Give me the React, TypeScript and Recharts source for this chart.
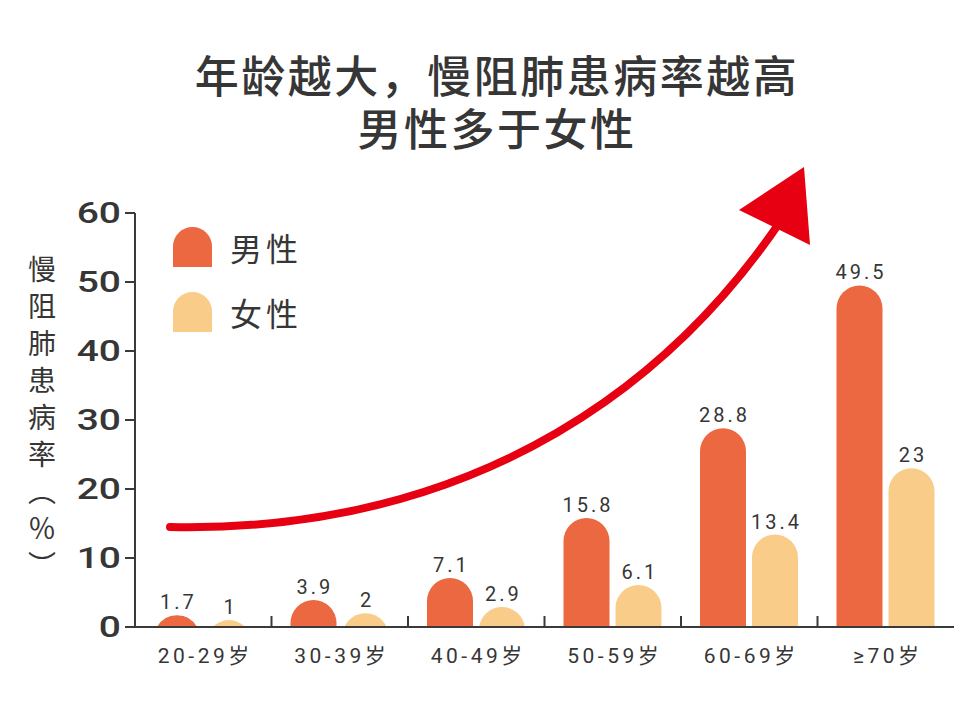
import React from 'react';
import { BarChart, Bar, XAxis, YAxis, LabelList, Legend } from 'recharts';

const categories = ['20-29岁', '30-39岁', '40-49岁', '50-59岁', '60-69岁', '≥70岁'];
const maleValues = [1.7, 3.9, 7.1, 15.8, 28.8, 49.5];
const femaleValues = [1, 2, 2.9, 6.1, 13.4, 23];
const yTicks = [0, 10, 20, 30, 40, 50, 60];
const seriesNames = { male: '男性', female: '女性' };
const seriesOrder = [seriesNames.male, seriesNames.female];
const titleLines = ['年龄越大，慢阻肺患病率越高', '男性多于女性'];
const yAxisLabel = '慢阻肺患病率（％）';

const data = categories.map((c, i) => ({ cat: c, male: maleValues[i], female: femaleValues[i] }));

const CHART_W = 960;
const CHART_H = 725;
const Y_AXIS_W = 135;
const MARGIN_R = 6;
const MARGIN_TOP = 213;
const X_AXIS_H = 98;
const PLOT_W = CHART_W - Y_AXIS_W - MARGIN_R;
const BAND = PLOT_W / categories.length;

const MALE = '#EC6840';
const FEMALE = '#F9CC8A';
const TEXT = '#363636';
const AXIS = '#3a3a3a';
const NUM_FONT = "Roboto, 'Noto Sans CJK SC', sans-serif";
const CJK_FONT = "'Noto Sans CJK SC', sans-serif";

const RoundTop = (props: any) => {
  const { x, y, width, height, fill } = props;
  if (!width || height == null || height <= 0) return null;
  const r = width / 2;
  const base = y + height;
  let d: string;
  if (height >= r) {
    d = `M${x},${base} L${x},${y + r} A${r},${r} 0 0 1 ${x + width},${y + r} L${x + width},${base} Z`;
  } else {
    const cx = x + r;
    const hc = Math.sqrt(r * r - (r - height) * (r - height));
    d = `M${cx - hc},${base} A${r},${r} 0 0 1 ${cx + hc},${base} Z`;
  }
  return <path d={d} fill={fill} />;
};

const XTick = (props: any) => {
  const { x, y, payload, index } = props;
  const isLast = index === categories.length - 1;
  return (
    <g>
      {!isLast && (
        <line x1={x + BAND / 2} y1={y} x2={x + BAND / 2} y2={y - 11} stroke={AXIS} strokeWidth={2} />
      )}
      <text
        x={x + 2}
        y={y + 36}
        textAnchor="middle"
        fontSize={21}
        letterSpacing={3.5}
        fill={TEXT}
        fontFamily={NUM_FONT}
      >
        {payload.value}
      </text>
    </g>
  );
};

const YTick = (props: any) => {
  const { x, y, payload } = props;
  return (
    <text
      x={0}
      y={0}
      transform={`translate(${x},${y}) scale(1.3,1)`}
      textAnchor="end"
      dominantBaseline="central"
      fontSize={30}
      fontWeight={500}
      fill={TEXT}
      fontFamily={NUM_FONT}
    >
      {payload.value}
    </text>
  );
};

const ValueLabel = (props: any) => {
  const { x, y, width, value } = props;
  return (
    <text
      x={x + width / 2 + 1.5}
      y={y - 6}
      textAnchor="middle"
      fontSize={20}
      letterSpacing={3}
      fill={TEXT}
      fontFamily={NUM_FONT}
    >
      {value}
    </text>
  );
};

const LegendContent = (props: any) => {
  const items = [...(props.payload || [])].sort(
    (a: any, b: any) => seriesOrder.indexOf(a.value) - seriesOrder.indexOf(b.value)
  );
  return (
    <div style={{ display: 'flex', flexDirection: 'column', gap: 25 }}>
      {items.map((p: any) => (
        <div key={p.value} style={{ display: 'flex', alignItems: 'center', height: 40 }}>
          <div
            style={{
              width: 39,
              height: 40,
              background: p.color,
              borderRadius: '19.5px 19.5px 0 0',
            }}
          />
          <span
            style={{
              marginLeft: 18,
              fontSize: 32,
              letterSpacing: 4,
              color: TEXT,
              fontFamily: CJK_FONT,
              lineHeight: '40px',
            }}
          >
            {p.value}
          </span>
        </div>
      ))}
    </div>
  );
};

export default function App() {
  return (
    <div style={{ position: 'absolute', left: 0, top: 0, width: CHART_W, height: CHART_H, background: '#fff' }}>
      <BarChart
        width={CHART_W}
        height={CHART_H}
        data={data}
        margin={{ top: MARGIN_TOP, right: MARGIN_R, bottom: 0, left: 0 }}
        barSize={46}
        barGap={6}
      >
        <XAxis
          dataKey="cat"
          height={X_AXIS_H}
          tickLine={false}
          tickSize={0}
          tickMargin={0}
          axisLine={{ stroke: AXIS, strokeWidth: 2 }}
          tick={<XTick />}
          interval={0}
        />
        <YAxis
          width={Y_AXIS_W}
          domain={[0, 60]}
          ticks={yTicks}
          tickSize={10}
          tickMargin={4}
          axisLine={{ stroke: AXIS, strokeWidth: 2 }}
          tickLine={{ stroke: AXIS, strokeWidth: 2 }}
          tick={<YTick />}
          interval={0}
        />
        <Legend
          layout="vertical"
          align="center"
          verticalAlign="middle"
          content={<LegendContent />}
          wrapperStyle={{ position: 'absolute', left: 173, top: 227, width: 'auto', height: 'auto' }}
        />
        <Bar dataKey="male" name={seriesNames.male} fill={MALE} shape={<RoundTop />} isAnimationActive={false}>
          <LabelList dataKey="male" content={<ValueLabel />} />
        </Bar>
        <Bar dataKey="female" name={seriesNames.female} fill={FEMALE} shape={<RoundTop />} isAnimationActive={false}>
          <LabelList dataKey="female" content={<ValueLabel />} />
        </Bar>
      </BarChart>

      <div
        style={{
          position: 'absolute',
          left: 497,
          top: 48,
          transform: 'translateX(-50%)',
          textAlign: 'center',
          whiteSpace: 'pre',
          fontFamily: CJK_FONT,
          fontWeight: 500,
          fontSize: 44,
          lineHeight: '53px',
          letterSpacing: 2.5,
          color: TEXT,
        }}
      >
        {titleLines.join('\n')}
      </div>

      <div
        style={{
          position: 'absolute',
          left: 28,
          top: 255,
          writingMode: 'vertical-rl',
          fontFamily: CJK_FONT,
          fontSize: 28,
          letterSpacing: 9,
          color: TEXT,
          lineHeight: '28px',
          whiteSpace: 'nowrap',
        }}
      >
        {yAxisLabel}
      </div>

      <svg
        width={CHART_W}
        height={CHART_H}
        style={{ position: 'absolute', left: 0, top: 0, pointerEvents: 'none' }}
      >
        <path
          d="M170,527 C560,535 735,288 780,222"
          fill="none"
          stroke="#E60012"
          strokeWidth={8}
          strokeLinecap="round"
        />
        <polygon points="739,210 804,167 810,245" fill="#E60012" />
      </svg>
    </div>
  );
}
